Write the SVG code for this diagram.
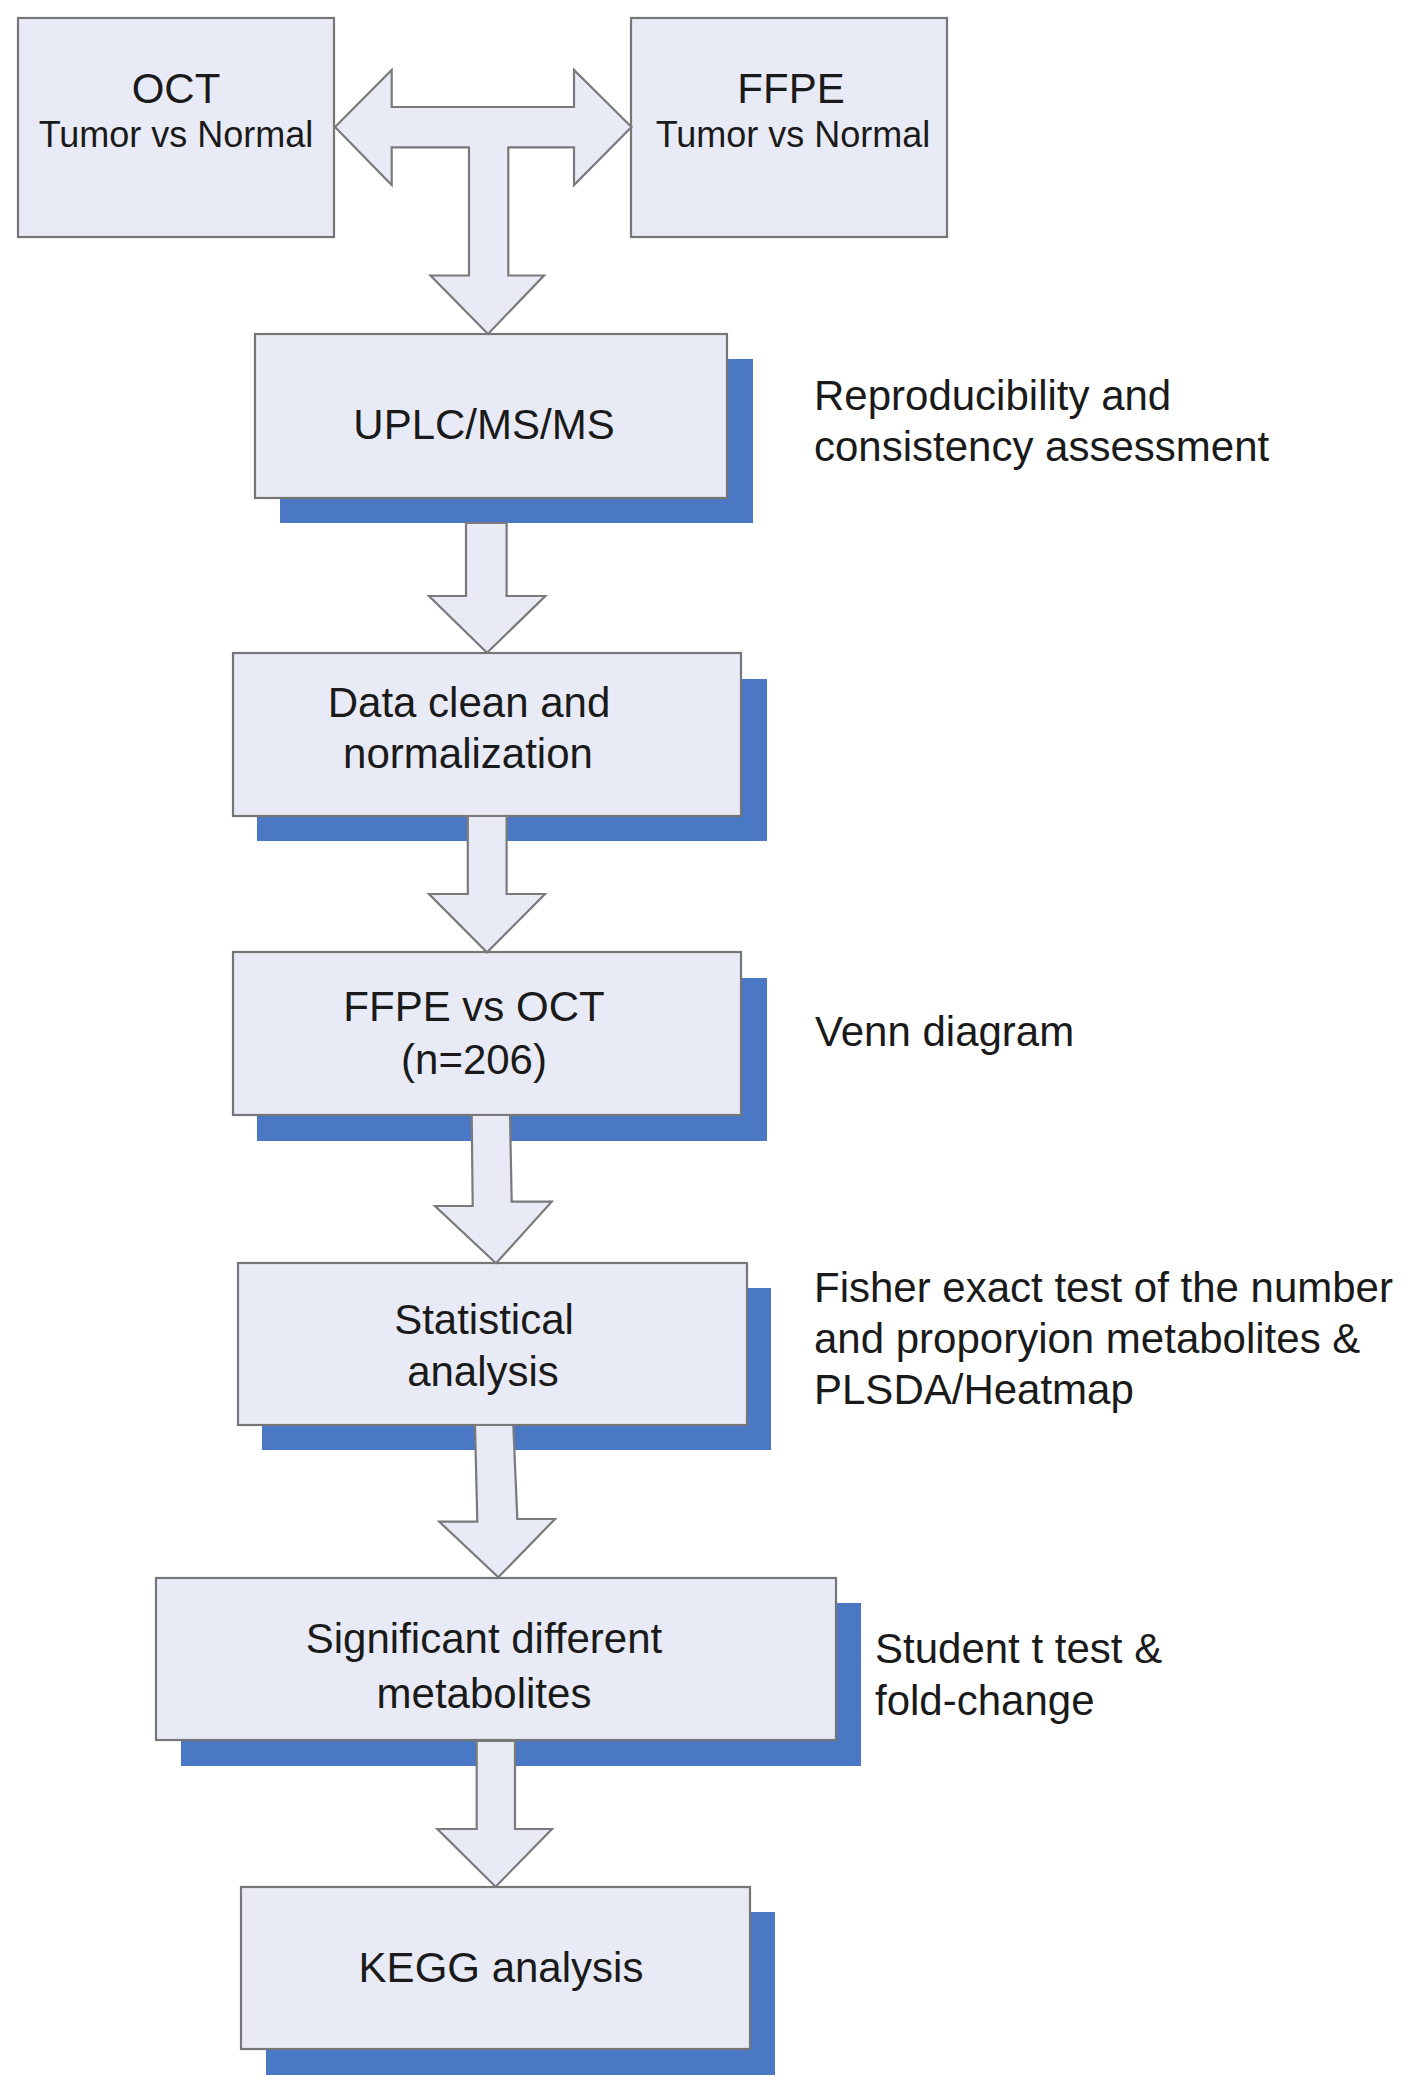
<svg xmlns="http://www.w3.org/2000/svg" width="1417" height="2093" viewBox="0 0 1417 2093">
<style>
.box{fill:#e8ebf5;stroke:#767676;stroke-width:2.2}
.shadow{fill:#4a78c4}
.arrow{fill:#e8ebf5;stroke:#7a7a7a;stroke-width:2.2;stroke-linejoin:miter}
text{font-family:"Liberation Sans",Arial,Helvetica,sans-serif;fill:#1a1a1a}
.c{text-anchor:middle;font-size:42px}
.sub{text-anchor:middle;font-size:36px}
.side{font-size:42px}
</style>
<rect width="1417" height="2093" fill="#ffffff"/>

<g id="oct">
<rect class="box" x="18" y="18" width="316" height="219"/>
<text class="c" x="176" y="103">OCT</text>
<text class="sub" x="176" y="147">Tumor vs Normal</text>
</g>
<g id="ffpe">
<rect class="box" x="631" y="18" width="316" height="219"/>
<text class="c" x="791" y="103">FFPE</text>
<text class="sub" x="793" y="147">Tumor vs Normal</text>
</g>

<g id="uplc">
<rect class="shadow" x="280" y="359" width="473" height="164"/>
<rect class="box" x="255" y="334" width="472" height="164"/>
<text class="c" x="484" y="439">UPLC/MS/MS</text>
</g>
<g id="dataclean">
<rect class="shadow" x="257" y="679" width="510" height="162"/>
<rect class="box" x="233" y="653" width="508" height="163"/>
<text class="c" x="469" y="717">Data clean and</text>
<text class="c" x="468" y="768">normalization</text>
</g>
<g id="ffpevsoct">
<rect class="shadow" x="257" y="978" width="510" height="163"/>
<rect class="box" x="233" y="952" width="508" height="163"/>
<text class="c" x="474" y="1021">FFPE vs OCT</text>
<text class="c" x="474" y="1074">(n=206)</text>
</g>
<g id="statistical">
<rect class="shadow" x="262" y="1288" width="509" height="162"/>
<rect class="box" x="238" y="1263" width="509" height="162"/>
<text class="c" x="484" y="1334">Statistical</text>
<text class="c" x="483" y="1386">analysis</text>
</g>
<g id="significant">
<rect class="shadow" x="181" y="1603" width="680" height="163"/>
<rect class="box" x="156" y="1578" width="680" height="162"/>
<text class="c" x="484" y="1653">Significant different</text>
<text class="c" x="484" y="1708">metabolites</text>
</g>
<g id="kegg">
<rect class="shadow" x="266" y="1912" width="509" height="163"/>
<rect class="box" x="241" y="1887" width="509" height="162"/>
<text class="c" x="501" y="1982">KEGG analysis</text>
</g>

<g id="connectors">
<polygon class="arrow" points="335,127 391.7,70 391.7,107 574,107 574,70 631.5,127 574,185 574,147.3 508.3,147.3 508.3,275.5 544,275.5 488,334 430.5,275.5 469,275.5 469,147.3 391.7,147.3 391.7,185"/>
<polygon class="arrow" points="466,523 506.6,523 506.6,596 545.4,596 487,652.8 429,596 466,596"/>
<polygon class="arrow" points="467.8,816 506.6,816 506.6,894 545,894 487,952.4 429,894 467.8,894"/>
<polygon class="arrow" points="471.7,1115 510,1115 511.7,1201.7 551.7,1201.7 496,1263.3 435,1206 472.7,1206"/>
<polygon class="arrow" points="475,1425 513.3,1425 517.3,1519 555,1519 498.3,1577.3 439.3,1521.7 477.3,1521.7"/>
<polygon class="arrow" points="476.7,1741 515,1741 515,1829 552,1829 495.6,1886.7 437.4,1829 476.7,1829"/>
</g>

<g id="labels">
<text class="side" x="814" y="410">Reproducibility and</text>
<text class="side" x="814" y="461">consistency assessment</text>
<text class="side" x="815" y="1046">Venn diagram</text>
<text class="side" x="814" y="1302">Fisher exact test of the number</text>
<text class="side" x="814" y="1353">and proporyion metabolites &amp;</text>
<text class="side" x="814" y="1404">PLSDA/Heatmap</text>
<text class="side" x="875" y="1663">Student t test &amp;</text>
<text class="side" x="875" y="1715">fold-change</text>
</g>
</svg>
